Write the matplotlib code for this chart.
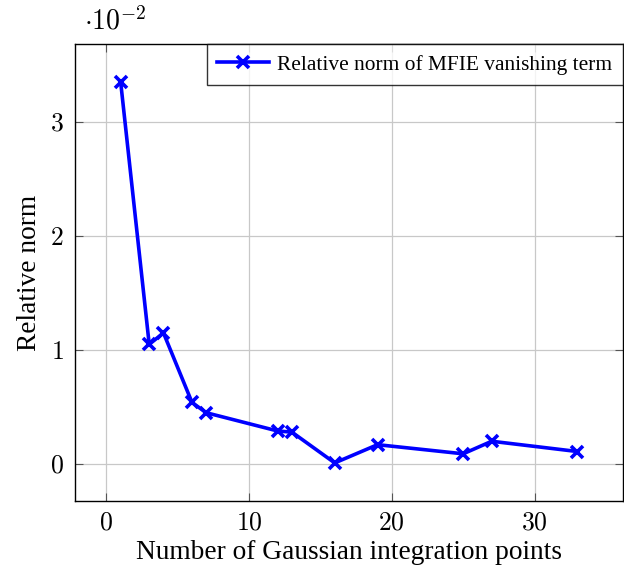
import matplotlib
matplotlib.use("Agg")
import matplotlib.pyplot as plt
from matplotlib.ticker import FuncFormatter

# data (relative norm in units of 1e-2)
points = [1, 3, 4, 6, 7, 12, 13, 16, 19, 25, 27, 33]
rel_norm = [3.35, 1.05, 1.15, 0.54, 0.45, 0.29, 0.28, 0.01, 0.17, 0.09, 0.20, 0.11]
xticks = [0, 10, 20, 30]
yticks = [0, 1, 2, 3]

plt.rcParams["mathtext.fontset"] = "cm"
plt.rcParams["font.family"] = ["Liberation Serif", "DejaVu Serif"]

fig = plt.figure(figsize=(6.24, 5.71), dpi=100)
ax = fig.add_axes([75 / 624, 70 / 571, 548 / 624, 457 / 571])

ax.plot(points, rel_norm, color="#0000ff", lw=2.6, marker="x", ms=8, mew=2.6,
        label="Relative norm of MFIE vanishing term")

span_x = max(points) - min(points)
span_y = max(rel_norm) - min(rel_norm)
ax.set_xlim(min(points) - 0.1 * span_x, max(points) + 0.1 * span_x)
ax.set_ylim(min(rel_norm) - 0.1 * span_y, max(rel_norm) + 0.1 * span_y)
ax.set_xticks(xticks)
ax.set_yticks(yticks)
ax.xaxis.set_major_formatter(FuncFormatter(lambda v, p: f"${v:.0f}$"))
ax.yaxis.set_major_formatter(FuncFormatter(lambda v, p: f"${v:.0f}$"))
ax.tick_params(direction="in", length=6, width=0.8, color="#555555", labelsize=18.5,
               top=True, right=True, pad=8)
ax.grid(True, color="#c8c8c8", lw=0.9)
ax.set_axisbelow(True)
for s in ax.spines.values():
    s.set_linewidth(1.0)

ax.set_xlabel("Number of Gaussian integration points", fontsize=19.7, labelpad=4)
ax.set_ylabel("Relative norm", fontsize=19.7, labelpad=6)
fig.text(84 / 624, 1 - 21 / 571, r"$\cdot 10^{-2}$", fontsize=20, va="center", ha="left")

leg = ax.legend(loc="upper right", fontsize=15.4, frameon=True, fancybox=False,
                borderaxespad=0, handlelength=2.4, borderpad=0.5, handletextpad=0.4)
leg.get_frame().set_edgecolor("black")
leg.get_frame().set_linewidth(1.0)

fig.savefig("out.png", dpi=100)
